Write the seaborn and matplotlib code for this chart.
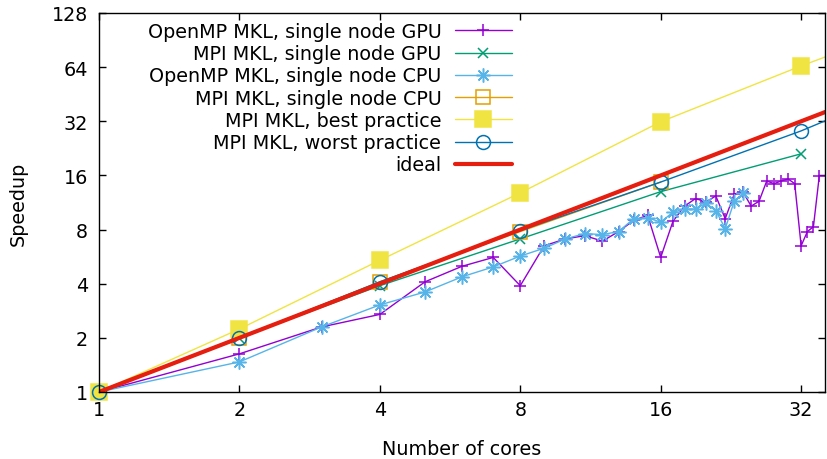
import matplotlib
matplotlib.use("Agg")
import matplotlib.pyplot as plt
from matplotlib.lines import Line2D
import seaborn as sns
import numpy as np
import pandas as pd

# ---------------- data ----------------
omp_gpu_cores = list(range(1, 36))
omp_gpu_speedup = [1.0, 1.63, 2.3, 2.7, 4.1, 5.0, 5.6, 3.9, 6.5, 7.1,
                   7.4, 6.9, 7.8, 9.0, 9.6, 5.6, 8.9, 10.8, 11.9, 11.4,
                   12.3, 9.2, 12.6, 13.0, 10.8, 11.5, 14.9, 14.4, 14.9, 15.3,
                   14.4, 6.5, 7.8, 8.3, 15.9]

mpi_gpu_cores = [1, 2, 4, 8, 16, 32]
mpi_gpu_speedup = [1.0, 2.0, 3.9, 7.1, 13.0, 21.1]

omp_cpu_cores = list(range(1, 25))
omp_cpu_speedup = [1.0, 1.47, 2.3, 3.05, 3.6, 4.37, 4.96, 5.7, 6.3, 7.1,
                   7.6, 7.5, 7.8, 9.2, 9.3, 8.8, 10.0, 10.4, 10.4, 11.2,
                   10.2, 8.1, 11.5, 12.7]

mpi_cpu_cores = [1, 2, 4, 8, 16]
mpi_cpu_speedup = [1.0, 2.0, 4.1, 7.8, 14.7]

best_cores = [1, 2, 4, 8, 16, 32, 64]
best_speedup = [1.0, 2.24, 5.4, 12.8, 31.8, 65.0, 127.0]

worst_cores = [1, 2, 4, 8, 16, 32, 64]
worst_speedup = [1.0, 2.0, 4.1, 7.9, 14.7, 28.3, 60.0]

ideal_cores = [1, 64]
ideal_speedup = [1, 64]

labels = ["OpenMP MKL, single node GPU", "MPI MKL, single node GPU",
          "OpenMP MKL, single node CPU", "MPI MKL, single node CPU",
          "MPI MKL, best practice", "MPI MKL, worst practice", "ideal"]
x_ticks = [1, 2, 4, 8, 16, 32]
y_ticks = [1, 2, 4, 8, 16, 32, 64, 128]

# ---------------- style ----------------
sns.set_style("ticks")
plt.rcParams['font.family'] = ['DejaVu Sans']
plt.rcParams['text.color'] = 'black'
plt.rcParams['axes.labelcolor'] = 'black'
plt.rcParams['xtick.color'] = 'black'
plt.rcParams['ytick.color'] = 'black'
FS = 13.75
plt.rcParams['font.size'] = FS

fig = plt.figure(figsize=(8.28, 4.6), dpi=100)
ax = fig.add_axes([99/828, 1 - 393/460, (825-99)/828, (393-14)/460])

XMAX = 36
series = [
    (omp_gpu_cores, omp_gpu_speedup, "#9400d3", "+", 8.0, dict()),
    (mpi_gpu_cores, mpi_gpu_speedup, "#009e73", "x", 7.5, dict()),
    (omp_cpu_cores, omp_cpu_speedup, "#56b4e9", (8, 2, 0), 10.0, dict()),
    (mpi_cpu_cores, mpi_cpu_speedup, "#e69f00", "s", 10.5, dict(markerfacecolor="none")),
    (best_cores, best_speedup, "#f0e442", "s", 11.0, dict(markerfacecolor="#f0e442")),
    (worst_cores, worst_speedup, "#0072b2", "o", 10.0, dict(markerfacecolor="none")),
]

handles = []
for xs, ys, col, mk, ms, extra in series:
    df = pd.DataFrame({"cores": xs, "speedup": ys})
    sns.lineplot(data=df, x="cores", y="speedup", ax=ax, color=col, lw=1.0,
                 estimator=None, sort=True)
    dfm = df[df.cores <= XMAX]
    sns.lineplot(data=dfm, x="cores", y="speedup", ax=ax, color=col,
                 linestyle="none", marker=mk, markersize=ms,
                 markeredgewidth=1.1, markeredgecolor=col, clip_on=False,
                 estimator=None, **extra)
    handles.append(Line2D([], [], color=col, lw=1.0, marker=mk, markersize=ms,
                          markeredgewidth=1.1, markeredgecolor=col,
                          markerfacecolor=extra.get("markerfacecolor", col)))

dfi = pd.DataFrame({"cores": ideal_cores, "speedup": ideal_speedup})
sns.lineplot(data=dfi, x="cores", y="speedup", ax=ax, color="#e51e10", lw=3.0,
             estimator=None)
handles.append(Line2D([], [], color="#e51e10", lw=3.0))

ax.set_xscale("log", base=2)
ax.set_yscale("log", base=2)
ax.set_xlim(1, XMAX)
ax.set_ylim(1, 128)
ax.set_xticks(x_ticks)
ax.set_xticklabels([str(v) for v in x_ticks])
ax.set_yticks(y_ticks)
ax.set_yticklabels([str(v) for v in y_ticks])
ax.minorticks_off()
ax.tick_params(axis="both", which="major", direction="in", length=5, width=1,
               top=True, right=True, labelsize=FS, colors="black")
ax.tick_params(axis="y", pad=8)
ax.tick_params(axis="x", pad=6)
for s in ax.spines.values():
    s.set_visible(True)
    s.set_linewidth(1.0)
    s.set_color("black")

ax.set_xlabel("Number of cores", fontsize=FS, labelpad=14)
ax.set_ylabel("Speedup", fontsize=FS, labelpad=17)

leg = ax.legend(handles, labels, loc="upper right", markerfirst=False,
                frameon=False, fontsize=FS, handlelength=3.0,
                handletextpad=0.7, labelspacing=0.17, borderpad=0,
                borderaxespad=0,
                bbox_to_anchor=(512/828, 1 - 23/460),
                bbox_transform=fig.transFigure)

fig.savefig("out.png", dpi=100)
